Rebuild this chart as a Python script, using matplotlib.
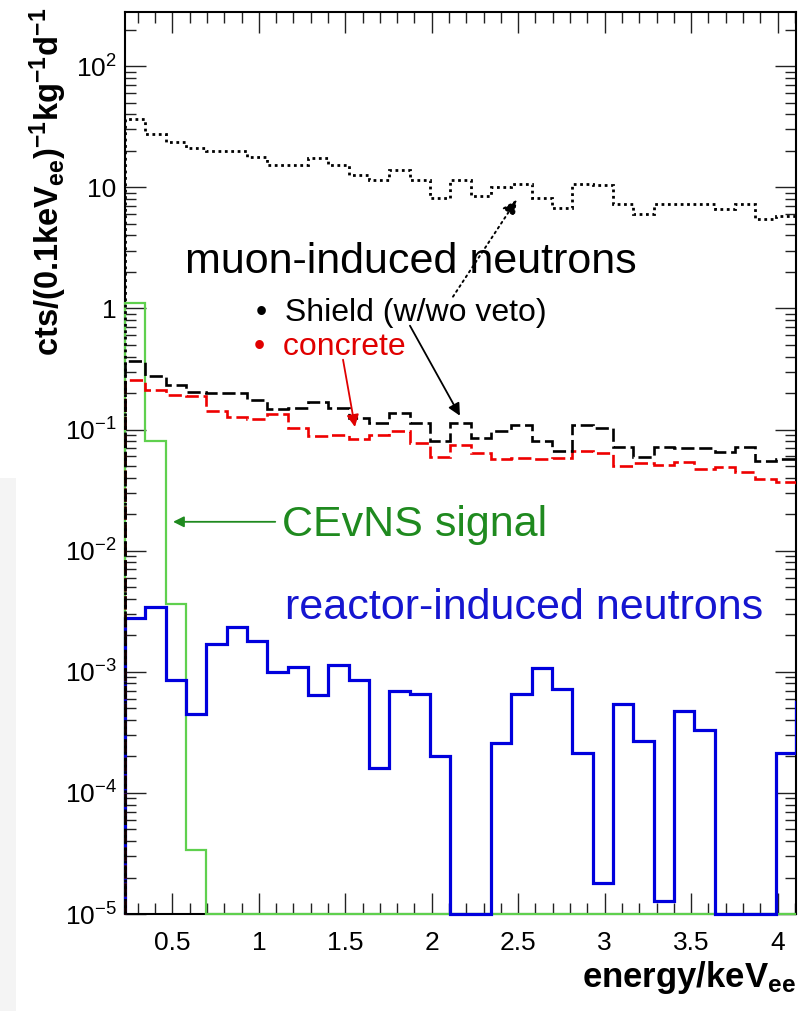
import numpy as np
import matplotlib
matplotlib.use("Agg")
import matplotlib.pyplot as plt
from matplotlib.patches import Rectangle
from matplotlib.ticker import MultipleLocator, LogLocator, NullFormatter, FuncFormatter

plt.rcParams["font.family"] = ["Liberation Sans", "DejaVu Sans"]
plt.rcParams["mathtext.fontset"] = "custom"
plt.rcParams["mathtext.rm"] = "Liberation Sans"
plt.rcParams["mathtext.it"] = "Liberation Sans:italic"
plt.rcParams["mathtext.bf"] = "Liberation Sans:bold"

# histogram binning (keVee); last bin sits just past the right frame edge
E_START = 0.226
BIN_WIDTH = 0.1176
N_SHOWN = 33

# cts/(0.1keVee)/kg/d per bin
muon_total = [36.7, 27.6, 23.5, 21.2, 20.1, 20.1, 17.7, 15.2, 15.3, 17.5, 15.3, 12.6,
              11.4, 14.0, 11.4, 8.2, 11.4, 8.5, 10.1, 10.7, 8.1, 6.8, 10.7, 10.5,
              7.3, 6.0, 7.3, 7.3, 7.3, 6.6, 7.3, 5.5, 5.8, 6.2]
shield = [0.365, 0.274, 0.234, 0.206, 0.200, 0.200, 0.174, 0.147, 0.150, 0.170, 0.150,
          0.124, 0.114, 0.138, 0.114, 0.081, 0.113, 0.085, 0.098, 0.108, 0.080, 0.067,
          0.108, 0.103, 0.072, 0.059, 0.072, 0.071, 0.070, 0.065, 0.072, 0.055, 0.057,
          0.060]
concrete = [0.257, 0.213, 0.194, 0.188, 0.141, 0.126, 0.122, 0.135, 0.103, 0.089, 0.090,
            0.083, 0.090, 0.098, 0.078, 0.059, 0.074, 0.064, 0.057, 0.058, 0.057, 0.058,
            0.066, 0.064, 0.050, 0.053, 0.051, 0.054, 0.047, 0.049, 0.045, 0.039, 0.037,
            0.033]
cevns = [1.1, 0.081, 3.6e-3, 3.4e-5, 0, 0, 0, 0, 0, 0, 0, 0, 0, 0, 0, 0, 0,
         0, 0, 0, 0, 0, 0, 0, 0, 0, 0, 0, 0, 0, 0, 0, 0, 0]
reactor = [2.79e-3, 3.44e-3, 8.5e-4, 4.5e-4, 1.71e-3, 2.35e-3, 1.79e-3, 1.0e-3, 1.10e-3,
           6.4e-4, 1.14e-3, 8.5e-4, 1.6e-4, 6.9e-4, 6.5e-4, 2.0e-4, 0, 0, 2.6e-4,
           6.6e-4, 1.07e-3, 7.2e-4, 2.15e-4, 1.8e-5, 5.4e-4, 2.7e-4, 1.27e-5, 4.7e-4,
           3.3e-4, 0, 0, 0, 2.15e-4, 5.6e-4]

YMIN, YMAX = 1e-5, 280

W, H = 808, 1011
fig = plt.figure(figsize=(W / 100, H / 100), dpi=100)
# faint screenshot strip at the lower left
fig.patches.append(Rectangle((0, 0), 16 / W, (H - 478) / H, transform=fig.transFigure,
                             facecolor="#f4f4f4", edgecolor="none", zorder=-5))
ax = fig.add_axes([125 / W, 1 - 914 / H, (796 - 125) / W, (914 - 12) / H])
ax.set_yscale("log")


def hist(vals, **kw):
    v = np.asarray(vals, dtype=float)
    edges = E_START + BIN_WIDTH * np.arange(len(v) + 1)
    # empty bins sit on the frame floor, as ROOT draws them
    sp = ax.stairs(np.where(v > 0, v, YMIN), edges, baseline=YMIN, zorder=3, **kw)
    # let the floor/left-edge strokes show in full, keep the right edge sharp
    sp.set_clip_path(Rectangle((-0.01, -0.01), 1.01, 1.02, transform=ax.transAxes))


# drawing order: signal and reactor first, muon spectra over them on the left edge
hist(cevns, color="#5fd04e", lw=1.6)
hist(reactor, color="#0000dd", lw=2.3)
hist(concrete, color="#ee0000", lw=1.9, ls=(0, (5, 1.8)))
hist(shield, color="black", lw=1.9, ls=(0, (5, 1.8)))
hist(muon_total, color="black", lw=2.0, ls=(0, (1, 1.3)))

ax.set_xlim(E_START, E_START + BIN_WIDTH * N_SHOWN)
ax.set_ylim(YMIN, YMAX)

ax.xaxis.set_major_locator(MultipleLocator(0.5))
ax.xaxis.set_minor_locator(MultipleLocator(0.1))
ax.xaxis.set_major_formatter(FuncFormatter(lambda x, _: f"{x:g}"))
ax.yaxis.set_major_locator(LogLocator(base=10, numticks=20))
ax.yaxis.set_minor_locator(LogLocator(base=10, subs=np.arange(2, 10), numticks=20))
ax.yaxis.set_minor_formatter(NullFormatter())


def ylab(y, _):
    e = int(round(np.log10(y)))
    return {0: "1", 1: "10"}.get(e, rf"$10^{{{e}}}$")


ax.yaxis.set_major_formatter(FuncFormatter(ylab))
ax.tick_params(which="both", direction="in", top=True, right=True, width=1.0,
               labelsize=19, color="#222222")
ax.tick_params(which="major", length=15)
ax.tick_params(which="minor", length=8)
ax.tick_params(axis="x", pad=12)
ax.tick_params(axis="y", pad=6)
for s in ax.spines.values():
    s.set_linewidth(1.5)

# labels
ax.text(0.573, 2.43, "muon-induced neutrons", fontsize=31, va="center", ha="left")
ax.text(0.984, 0.921, "•  Shield (w/wo veto)", fontsize=23, va="center", ha="left")
ax.text(0.972, 0.483, "•  concrete", fontsize=23, va="center", ha="left", color="#e00000")
ax.text(1.134, 0.0163, "CEvNS signal", fontsize=31, va="center", ha="left", color="#1f8a1f")
ax.text(1.151, 3.36e-3, "reactor-induced neutrons", fontsize=31, va="center", ha="left",
        color="#1515d0")

ax.annotate("", xy=(2.492, 7.9), xytext=(2.123, 1.25),
            arrowprops=dict(arrowstyle="-|>", color="black", lw=1.4, ls=(0, (1, 2)),
                            mutation_scale=22, shrinkA=0, shrinkB=0))
ax.annotate("", xy=(2.163, 0.130), xytext=(1.874, 0.72),
            arrowprops=dict(arrowstyle="-|>", color="black", lw=1.3,
                            mutation_scale=18, shrinkA=0, shrinkB=0))
ax.annotate("", xy=(1.556, 0.105), xytext=(1.487, 0.377),
            arrowprops=dict(arrowstyle="-|>", color="#e00000", lw=1.3,
                            mutation_scale=18, shrinkA=0, shrinkB=0))
ax.annotate("", xy=(0.504, 0.0173), xytext=(1.095, 0.0173),
            arrowprops=dict(arrowstyle="-|>", color="#1f8a1f", lw=1.3,
                            mutation_scale=16, shrinkA=0, shrinkB=0))

fig.text(48 / W, 1 - 8 / H,
         r"$\mathbf{cts/(0.1keV_{ee})^{-1}kg^{-1}d^{-1}}$",
         rotation=90, ha="center", va="top", fontsize=23.5)
fig.text(796 / W, 1 - 978 / H, r"$\mathbf{energy/keV_{ee}}$",
         ha="right", va="center", fontsize=25)

fig.savefig("out.png", dpi=100)
